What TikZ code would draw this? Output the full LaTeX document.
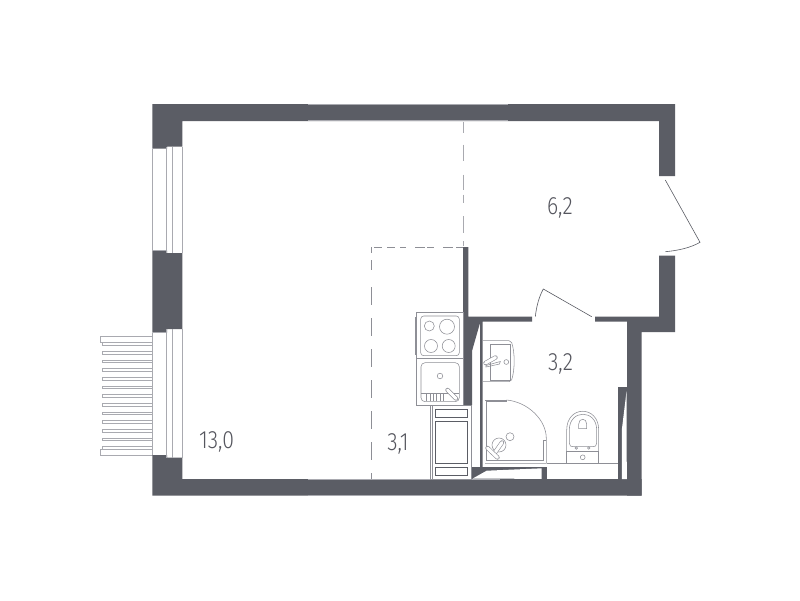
\documentclass[tikz,border=0pt]{standalone}
\usepackage{fontspec}
\setmainfont{Carlito}
\IfFontExistsTF{Fira Sans Light}{\newfontfamily\lab{Fira Sans Light}[FakeStretch=.85]}{\newfontfamily\lab{Fira Sans}[FakeStretch=.85]}
\definecolor{wallc}{HTML}{5B5D65}
\definecolor{edgec}{HTML}{A9AAB0}
\definecolor{linec}{HTML}{8E8F96}
\definecolor{textc}{HTML}{55565E}
\newcommand{\capsul}[2]{\draw[linec,line width=4.3pt,line cap=round] #1 -- #2; \draw[white,line width=3.1pt,line cap=round] #1 -- #2;}
\tikzset{
 wall/.style={fill=wallc,draw=none},
 glass/.style={draw=edgec,line width=.9pt},
 rail/.style={draw=edgec,line width=.8pt,fill=white},
 railbar/.style={draw=edgec,line width=1pt,fill=white},
 fix/.style={draw=linec,line width=.55pt,fill=none},
 fixd/.style={draw=wallc,line width=.8pt,fill=none},
 doorl/.style={draw=wallc,line width=.6pt,fill=none},
 zonea/.style={draw=edgec,line width=1pt},
 zoneb/.style={draw=linec,line width=.9pt},
 roomlabel/.style={text=textc,inner sep=0pt,anchor=base,font=\lab\fontsize{25}{28}\selectfont},
}
\begin{document}
\begin{tikzpicture}[x=1pt,y=-1pt]
\useasboundingbox (0,0) rectangle (800,600);
\fill[white] (0,0) rectangle (800,600);
% balcony
\foreach \yy in {342.7,351.4,360,368.7,377.4,386,394.7,403.4,412,420.7,429.4,438,446.7}
  \draw[railbar] (102.3,\yy) rectangle (152.7,\yy+2.6);
\draw[rail] (100,336.7) rectangle (152.7,342.3);
\draw[rail] (100,449.3) rectangle (152.7,455);
% walls
\fill[wall] (152.3,104) -- (675,104) -- (675,176) -- (659,176) -- (659,121) -- (182.3,121) -- (182.3,146.5) -- (167,146.5) -- (167,148.5) -- (152.3,148.5) -- cycle;
\fill[wall] (152.3,250.7) -- (167,250.7) -- (167,253) -- (182.3,253) -- (182.3,329) -- (167,329) -- (167,332.7) -- (152.3,332.7) -- cycle;
\fill[wall] (152.3,455) -- (167,455) -- (167,457.7) -- (182.3,457.7) -- (182.3,479) -- (641.7,479) -- (641.7,495.5) -- (152.3,495.5) -- cycle;
\fill[wall] (659,255.7) -- (675,255.7) -- (675,332) -- (641.7,332) -- (641.7,495.5) -- (627,495.5) -- (627,321.7) -- (595,321.7) -- (595,316.7) -- (659,316.7) -- cycle;
\fill[wall] (463,247) -- (468.3,247) -- (468.3,316.7) -- (532,316.7) -- (532,321.7) -- (482.7,321.7) -- (482.7,467) -- (480,467) -- (480,322.5) -- (472,322.5) -- (472,405) -- (463,405) -- cycle;
\fill[wall] (472,322) -- (480,322) -- (480,323) -- (472.3,350) -- (472,350) -- cycle;
% bathroom sill with sliver
\fill[wall] (471,466.7) -- (546.7,466.7) -- (546.7,479.5) -- (471,479.5) -- cycle;
\fill[white] (472.7,478.5) -- (486.7,470.7) -- (541.7,468.3) -- (541.7,478.9) -- cycle;
% door pocket in bathroom
\fill[wall] (618,387) -- (627.5,387) -- (627.5,479.5) -- (618,479.5) -- cycle;
\fill[white] (626.5,391.5) -- (621.8,430) -- (621.8,479) -- (626.8,479) -- cycle;
% lighter wall segments
\draw[edgec,line width=.7pt] (308,104.4) -- (508,104.4) (308,120.7) -- (508,120.7) (308,479.3) -- (500,479.3) (308,495.2) -- (500,495.2);
% windows
\draw[glass] (152.8,148.5) -- (152.8,250.7) (166.5,147) -- (166.5,253) (172.3,147) -- (172.3,253) (182,147) -- (182,253) (153,250.5) -- (166.5,250.5);
\draw[glass] (152.8,332.7) -- (152.8,455) (166.5,329) -- (166.5,457.7) (172.3,329) -- (172.3,457.7) (182,329) -- (182,457.7) (153,332.9) -- (166.5,332.9);
% zone lines
\draw[zonea,dash pattern=on 11.5pt off 11.5pt on 16.7pt off 13.3pt on 15pt off 5pt on 8pt off 13.7pt on 16.3pt off 8.7pt on 5pt off 50pt] (463.3,121.5) -- (463.3,247);
\draw[zoneb,dash pattern=on 7pt off 3.5pt on 10pt off 9pt on 7pt off 2pt on 10pt off 9pt on 6pt off 5pt on 8pt off 5pt on 8pt off 50pt] (463,247.3) -- (371.7,247.3);
\draw[zoneb,dash pattern=on 6pt off 7pt on 10pt off 17pt on 18pt off 13pt on 18pt off 13pt on 18pt off 13pt on 18pt off 13pt on 18pt off 13pt on 18pt off 13pt on 18pt off 13pt] (371.7,247.3) -- (371.7,479);
% doors
\draw[doorl] (665.3,180) -- (700,242.3) .. controls (690,248) and (678,250.5) .. (665.3,251.7);
\draw[doorl] (591.7,316.7) -- (543.3,289) .. controls (539,297) and (536.5,306) .. (535.3,316.7);
% stove
\draw[fix] (416.7,312.3) rectangle (463.3,358.3);
\draw[fix] (415.4,317) -- (415.4,355);
\draw[fix,rounded corners=3pt] (420.7,316) rectangle (459.3,355.7);
\draw[fix] (429.3,326) circle (5) (447,326.7) circle (7.5) (431,346) circle (6.5) (448.7,346) circle (6.5);
% kitchen sink
\draw[fix] (416.7,358.3) rectangle (463,405);
\draw[fix,rounded corners=4pt] (421,362.7) rectangle (459.3,401.7);
\draw[fix] (421,393.5) -- (459.3,393.5);
\foreach \xx in {426.7,430,433.3,436.6,439.9,443.2}
  \draw[fix] (\xx,394) -- (\xx,400.7);
\draw[fix] (440,376) circle (2.8);
\capsul{(447.5,390)}{(456,398.5)}
% fridge
\draw[fix,line width=.9pt] (430.7,405) rectangle (471,479);
\draw[fix] (432.3,405) -- (432.3,479);
\draw[fixd] (435,409) rectangle (467.3,417.7) (435,421) rectangle (467.3,463.3) (435,467.3) rectangle (467.3,475.7);
% bathroom sink
\draw[fix,rounded corners=2pt] (483,340.7) -- (511,340.7) .. controls (515,352) and (515,370) .. (511,381.7) -- (483,381.7);
\draw[fix] (490.7,344.3) rectangle (510,380.7);
\draw[fix] (506.3,362) circle (2.4);
\draw[fix] (486,365.5) -- (500.3,361.5) -- (499.5,364) -- (486,367) -- cycle;
\capsul{(485.5,363)}{(495.5,357.5)}
% shower
\draw[fix] (506.7,400) .. controls (528,402) and (546.3,420) .. (546.3,438.3) -- (546.3,463.3) -- (485,463.3);
\draw[fix] (546.3,440) -- (543.3,440) -- (543.3,460) -- (486.5,460) -- (486.5,401.7) -- (506.7,401.7) -- (506.7,400) -- (484.5,400);
\draw[fix] (510,436.7) circle (4) (499,445) circle (7);
\capsul{(495,452.5)}{(502,442.5)}
\capsul{(487.5,448)}{(497.5,457.5)}
% toilet
\draw[fix] (566.7,451) rectangle (598.7,463.3);
\draw[fix] (566.7,451) -- (566.7,430) .. controls (566.7,405) and (598.7,405) .. (598.7,430) -- (598.7,451);
\draw[fix] (569.3,430) .. controls (569.3,409) and (596.7,409) .. (596.7,430) -- (596.7,443) .. controls (596.7,446) and (595,446.7) .. (593,446.7) -- (573,446.7) .. controls (571,446.7) and (569.3,446) .. (569.3,443) -- cycle;
\draw[fix] (578.7,428.7) -- (578.7,424) .. controls (578.7,417.7) and (586.7,417.7) .. (586.7,424) -- (586.7,428.7) -- cycle;
\draw[fix] (576.3,448) circle (1.3) (588.7,448) circle (1.3) (582.7,457.3) circle (2.4);
\draw[fix] (546.7,463.3) -- (617.7,463.3);
% labels
\node[roomlabel] (a) at (216.5,448.3) {13,0};
\node[roomlabel] (b) at (398,450) {3,1};
\node[roomlabel] (c) at (560,214) {6,2};
\node[roomlabel] (d) at (560.5,370) {3,2};
\end{tikzpicture}
\end{document}
